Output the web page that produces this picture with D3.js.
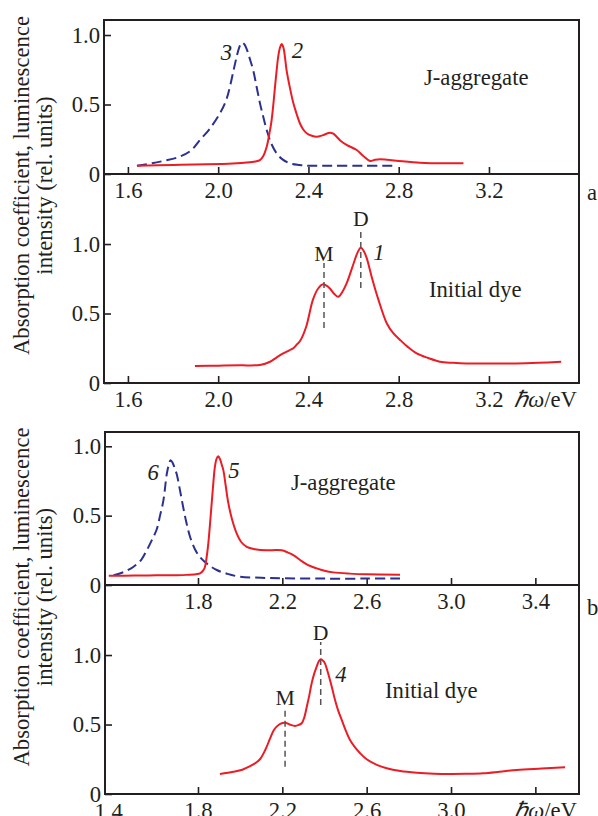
<!DOCTYPE html>
<html>
<head>
<meta charset="utf-8">
<script src="https://cdn.jsdelivr.net/npm/d3@7"></script>
<style>
  html, body { margin: 0; padding: 0; background: #fff; }
  svg { display: block; }
</style>
</head>
<body>
<svg id="chart" width="598" height="816"></svg>
<script>
// ---- spectra: [photon energy (eV), relative intensity] ----
// panel a, J-aggregate: luminescence (2) and absorption (3)
const curve2 = [[1.64,0.06],[1.80,0.065],[1.95,0.07],[2.065,0.076],[2.126,0.082],[2.165,0.09],[2.185,0.10],[2.20,0.13],[2.215,0.196],[2.227,0.29],[2.237,0.39],[2.245,0.51],[2.252,0.63],[2.26,0.76],[2.266,0.844],[2.274,0.91],[2.281,0.935],[2.289,0.91],[2.296,0.84],[2.303,0.748],[2.318,0.62],[2.333,0.51],[2.348,0.43],[2.362,0.365],[2.377,0.32],[2.392,0.293],[2.415,0.275],[2.436,0.268],[2.465,0.28],[2.495,0.297],[2.51,0.29],[2.525,0.268],[2.545,0.235],[2.569,0.209],[2.614,0.173],[2.643,0.13],[2.673,0.094],[2.695,0.102],[2.717,0.106],[2.75,0.102],[2.79,0.096],[2.894,0.081],[2.95,0.078],[3.087,0.077]];
const curve3 = [[1.64,0.06],[1.70,0.075],[1.76,0.095],[1.83,0.125],[1.88,0.17],[1.919,0.245],[1.96,0.32],[2.008,0.437],[2.035,0.53],[2.052,0.628],[2.07,0.76],[2.082,0.844],[2.093,0.91],[2.104,0.945],[2.115,0.935],[2.126,0.90],[2.14,0.83],[2.155,0.748],[2.17,0.63],[2.185,0.51],[2.20,0.41],[2.215,0.317],[2.235,0.22],[2.259,0.149],[2.285,0.105],[2.318,0.077],[2.36,0.065],[2.392,0.06],[2.5,0.06],[2.65,0.06],[2.775,0.06]];
// panel a, initial dye: absorption (1)
const curve1 = [[1.897,0.122],[2.0,0.125],[2.1,0.127],[2.185,0.13],[2.23,0.153],[2.26,0.185],[2.288,0.213],[2.315,0.235],[2.333,0.25],[2.35,0.28],[2.362,0.30],[2.39,0.405],[2.42,0.60],[2.443,0.68],[2.465,0.71],[2.48,0.70],[2.495,0.68],[2.515,0.64],[2.532,0.62],[2.55,0.655],[2.57,0.72],[2.6,0.86],[2.618,0.94],[2.632,0.973],[2.645,0.95],[2.658,0.90],[2.68,0.765],[2.71,0.60],[2.747,0.43],[2.775,0.36],[2.806,0.31],[2.84,0.26],[2.88,0.213],[2.93,0.18],[2.983,0.153],[3.04,0.145],[3.1,0.14],[3.2,0.14],[3.32,0.14],[3.42,0.145],[3.52,0.153]];
// panel b, J-aggregate: luminescence (5) and absorption (6)
const curve5 = [[1.377,0.067],[1.5,0.068],[1.6,0.07],[1.7,0.071],[1.746,0.073],[1.79,0.078],[1.81,0.084],[1.825,0.105],[1.833,0.13],[1.841,0.20],[1.849,0.30],[1.857,0.44],[1.865,0.59],[1.873,0.74],[1.88,0.85],[1.888,0.91],[1.896,0.928],[1.905,0.905],[1.912,0.87],[1.92,0.83],[1.932,0.71],[1.944,0.59],[1.962,0.47],[1.984,0.37],[2.005,0.31],[2.031,0.275],[2.07,0.258],[2.126,0.25],[2.17,0.252],[2.197,0.25],[2.225,0.235],[2.252,0.216],[2.284,0.18],[2.32,0.145],[2.363,0.12],[2.4,0.103],[2.442,0.091],[2.52,0.082],[2.6,0.077],[2.758,0.074]];
const curve6 = [[1.40,0.07],[1.45,0.095],[1.493,0.13],[1.53,0.18],[1.557,0.25],[1.58,0.32],[1.604,0.40],[1.62,0.50],[1.636,0.61],[1.652,0.80],[1.662,0.87],[1.67,0.90],[1.68,0.88],[1.69,0.84],[1.699,0.80],[1.715,0.68],[1.73,0.56],[1.745,0.45],[1.762,0.35],[1.785,0.26],[1.81,0.20],[1.85,0.145],[1.889,0.108],[1.94,0.08],[1.999,0.06],[2.1,0.052],[2.205,0.048],[2.4,0.046],[2.6,0.046],[2.758,0.046]];
// panel b, initial dye: absorption (4)
const curve4 = [[1.904,0.144],[1.967,0.16],[2.01,0.175],[2.047,0.20],[2.07,0.22],[2.094,0.25],[2.12,0.32],[2.142,0.40],[2.16,0.46],[2.173,0.485],[2.19,0.505],[2.213,0.513],[2.235,0.50],[2.26,0.49],[2.278,0.497],[2.292,0.509],[2.304,0.55],[2.316,0.628],[2.328,0.71],[2.339,0.796],[2.352,0.87],[2.363,0.916],[2.373,0.955],[2.382,0.969],[2.392,0.96],[2.402,0.94],[2.414,0.885],[2.426,0.82],[2.438,0.75],[2.45,0.676],[2.465,0.60],[2.482,0.532],[2.50,0.46],[2.521,0.388],[2.545,0.335],[2.569,0.293],[2.6,0.25],[2.648,0.21],[2.695,0.185],[2.76,0.165],[2.837,0.153],[2.92,0.146],[2.995,0.144],[3.07,0.145],[3.153,0.149],[3.23,0.16],[3.312,0.173],[3.43,0.183],[3.541,0.192]];

// ---- axis ticks ----
const xTicksA = [1.6, 2.0, 2.4, 2.8, 3.2];
const xTicksB = [1.8, 2.2, 2.6, 3.0, 3.4];
const yTicks = [0, 0.5, 1.0];
const yTickLabels = ["0", "0.5", "1.0"];

// ---- monomer (M) and dimer (D) band positions: [label, energy, line bottom, line top] ----
const bandsA = [["M", 2.469, 0.396, 0.863], ["D", 2.632, 0.683, 1.115]];
const bandsB = [["M", 2.213, 0.196, 0.628], ["D", 2.382, 0.640, 1.094]];

// ---- curve numbers: [text, energy, value at baseline] ----
const numbersATop = [["3", 2.037, 0.82], ["2", 2.351, 0.832]];
const numbersALow = [["1", 2.712, 0.885]];
const numbersBTop = [["6", 1.587, 0.755], ["5", 1.971, 0.77]];
const numbersBLow = [["4", 2.478, 0.808]];

const RED = "#ec1c24";
const BLUE = "#2b3190";
const INK = "#231f20";

// pick the first installed serif face and size it so the axis title spans ~340 px
const canvas = document.createElement("canvas").getContext("2d");
function measure(font, s) { canvas.font = font; return canvas.measureText(s).width; }
const probe = "Absorption coefficient, luminescence";
const serifCandidates = ["Liberation Serif", "Times New Roman", "Tinos", "DejaVu Serif", "Noto Serif"];
let FAMILY = "serif";
for (const c of serifCandidates) {
  const a = measure(`100px "${c}", monospace`, probe), b = measure("100px monospace", probe);
  const a2 = measure(`100px "${c}", sans-serif`, probe), b2 = measure("100px sans-serif", probe);
  if (a !== b && a2 !== b2) { FAMILY = `"${c}"`; break; }
}
const FAMILY_STACK = `${FAMILY}, serif`;
const probeWidth = measure(`100px ${FAMILY_STACK}`, probe);
const FONT = Math.max(16, Math.min(23, Math.round(10 * 100 * 340 / probeWidth) / 10));

const svg = d3.select("#chart").style("font-family", FAMILY_STACK).style("fill", INK);

// panel geometry (pixels)
const panels = [
  {
    name: "a", left: 104, right: 579, top: 20, mid: 174, bottom: 383,
    xDomain: [1.494, 3.599], ticks: xTicksA, lowTickLabels: xTicksA,
    topMax: 1.108, lowMax: 1.504,
    topCurves: [[curve3, BLUE, true], [curve2, RED, false]],
    lowCurves: [[curve1, RED, false]],
    topNumbers: numbersATop, lowNumbers: numbersALow, bands: bandsA,
    topText: ["J-aggregate", 2.912, 0.64], lowText: ["Initial dye", 2.934, 0.619],
    letterDy: 26, extraLow: null
  },
  {
    name: "b", left: 105, right: 579, top: 432, mid: 585, bottom: 794,
    xDomain: [1.359, 3.607], ticks: xTicksB, lowTickLabels: [1.8, 2.2, 2.6, 3.0],
    topMax: 1.103, lowMax: 1.504,
    topCurves: [[curve6, BLUE, true], [curve5, RED, false]],
    lowCurves: [[curve4, RED, false]],
    topNumbers: numbersBTop, lowNumbers: numbersBLow, bands: bandsB,
    topText: ["J-aggregate", 2.241, 0.683], lowText: ["Initial dye", 2.687, 0.691],
    letterDy: 30, extraLow: 1.4
  }
];

function styleAxis(g) {
  g.select(".domain").remove();
  g.attr("font-family", FAMILY_STACK).attr("font-size", FONT);
  g.selectAll(".tick line").attr("stroke", INK).attr("stroke-width", 1.6);
  g.selectAll(".tick text").attr("fill", INK);
}

panels.forEach(p => {
  const x = d3.scaleLinear().domain(p.xDomain).range([p.left, p.right]);
  const yTop = d3.scaleLinear().domain([0, p.topMax]).range([p.mid, p.top]);
  const yLow = d3.scaleLinear().domain([0, p.lowMax]).range([p.bottom, p.mid]);
  const g = svg.append("g");
  const txt = () => g.append("text").attr("fill", INK).attr("font-size", FONT);

  // axes: ticks point into the plot
  const xFmt = labels => d => labels.includes(d) ? d.toFixed(1) : "";
  g.append("g").attr("transform", `translate(0,${p.mid})`)
    .call(d3.axisBottom(x).tickValues(p.ticks).tickSize(-7).tickPadding(8).tickFormat(xFmt(p.ticks)))
    .call(styleAxis);
  g.append("g").attr("transform", `translate(0,${p.bottom})`)
    .call(d3.axisBottom(x).tickValues(p.ticks).tickSize(-7).tickPadding(8).tickFormat(xFmt(p.lowTickLabels)))
    .call(styleAxis);
  [yTop, yLow].forEach(y => {
    g.append("g").attr("transform", `translate(${p.left},0)`)
      .call(d3.axisLeft(y).tickValues(yTicks).tickSize(-7).tickPadding(4)
        .tickFormat((d, i) => yTickLabels[i]))
      .call(styleAxis);
  });

  // leftmost energy label without a tick mark
  if (p.extraLow !== null) {
    txt().attr("x", x(p.extraLow) - 5).attr("y", p.bottom + 25)
      .attr("text-anchor", "middle").text(p.extraLow.toFixed(1));
  }

  // energy axis title
  const t = txt().attr("x", p.right - 2).attr("y", p.bottom + 24).attr("text-anchor", "end");
  t.append("tspan").attr("font-style", "italic").text("\u210F\u03C9");
  t.append("tspan").text("/eV");

  // frame and divider
  g.append("rect").attr("x", p.left).attr("y", p.top)
    .attr("width", p.right - p.left).attr("height", p.bottom - p.top)
    .attr("fill", "none").attr("stroke", INK).attr("stroke-width", 2);
  g.append("line").attr("x1", p.left).attr("x2", p.right)
    .attr("y1", p.mid).attr("y2", p.mid).attr("stroke", INK).attr("stroke-width", 2);

  // spectra
  const draw = (curves, y) => curves.forEach(([data, color, dashed]) => {
    const line = d3.line().x(d => x(d[0])).y(d => y(d[1])).curve(d3.curveCatmullRom.alpha(0.5));
    g.append("path").datum(data).attr("d", line)
      .attr("fill", "none").attr("stroke", color).attr("stroke-width", 2)
      .attr("stroke-linejoin", "round")
      .attr("stroke-dasharray", dashed ? "10,5" : null);
  });
  draw(p.topCurves, yTop);
  draw(p.lowCurves, yLow);

  // M / D band markers
  p.bands.forEach(([label, e, v0, v1]) => {
    g.append("line").attr("x1", x(e)).attr("x2", x(e))
      .attr("y1", yLow(v0)).attr("y2", yLow(v1))
      .attr("stroke", "#555").attr("stroke-width", 1.5).attr("stroke-dasharray", "6,4");
    txt().attr("x", x(e)).attr("y", yLow(v1) - 2)
      .attr("text-anchor", "middle").attr("font-size", FONT - 1).text(label);
  });

  // curve numbers
  const nums = (list, y) => list.forEach(([s, e, v]) => {
    txt().attr("x", x(e)).attr("y", y(v)).attr("text-anchor", "middle")
      .attr("font-style", "italic").text(s);
  });
  nums(p.topNumbers, yTop);
  nums(p.lowNumbers, yLow);

  // sample captions
  txt().attr("x", x(p.topText[1])).attr("y", yTop(p.topText[2])).text(p.topText[0]);
  txt().attr("x", x(p.lowText[1])).attr("y", yLow(p.lowText[2])).text(p.lowText[0]);

  // panel letter
  txt().attr("x", p.right + 8).attr("y", p.mid + p.letterDy).text(p.name);

  // vertical axis title
  const cy = (p.top + p.bottom) / 2 - 16;
  const yl = txt().attr("transform", `translate(0,${cy}) rotate(-90)`).attr("text-anchor", "middle");
  yl.append("tspan").attr("x", 0).attr("y", 29).text("Absorption coefficient, luminescence");
  yl.append("tspan").attr("x", 0).attr("y", 52).text("intensity (rel. units)");
});
</script>
</body>
</html>
